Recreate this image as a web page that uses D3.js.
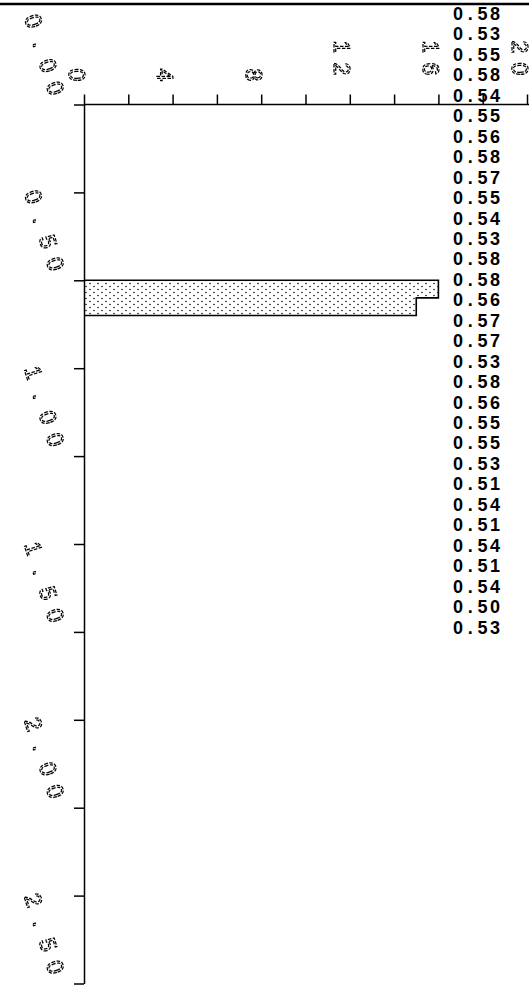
<!DOCTYPE html>
<html>
<head>
<meta charset="utf-8">
<script src="https://cdn.jsdelivr.net/npm/d3@7"></script>
<style>
  html, body { margin: 0; padding: 0; background: #fff; }
  svg { display: block; }
  .outline-label {
    font-family: "Liberation Sans", Arial, sans-serif;
    font-size: 23px;
    fill: #fff;
    stroke: #000;
    stroke-width: 1.25px;
    stroke-dasharray: 3.5 1.5;
    text-anchor: middle;
    text-rendering: geometricPrecision;
  }
  .labels { filter: grayscale(100%); }
  .value-list {
    font-family: "Liberation Sans", Arial, sans-serif;
    font-size: 18px;
    font-weight: bold;
    text-anchor: middle;
    fill: #000;
  }
</style>
</head>
<body>
<svg id="chart" width="529" height="997"></svg>
<script>
// histogram bins (y = value range, x = count)
var binStart = [0.50, 0.55];
var binEnd = [0.55, 0.60];
var binCount = [16, 15];

// value column printed at the right
var listedValues = ['0.58', '0.53', '0.55', '0.58', '0.54', '0.55', '0.56', '0.58', '0.57', '0.55',
    '0.54', '0.53', '0.58', '0.58', '0.56', '0.57', '0.57', '0.53', '0.58', '0.56',
    '0.55', '0.55', '0.53', '0.51', '0.54', '0.51', '0.54', '0.51', '0.54', '0.50', '0.53'];

var xTickValues = [0, 2, 4, 6, 8, 10, 12, 14, 16, 18, 20];
var xLabelValues = [0, 4, 8, 12, 16, 20];
var yTickValues = [0, 0.25, 0.5, 0.75, 1, 1.25, 1.5, 1.75, 2, 2.25, 2.5];
var yLabelValues = [0, 0.5, 1, 1.5, 2, 2.5];

var width = 529;
var height = 997;

var svg = d3.select('#chart');

var x = d3.scaleLinear().domain([0, 20]).range([84, 527]);
var y = d3.scaleLinear().domain([0, 2.5]).range([104.5, 983.5]);

// fixed-pitch positions for each character (plotter style)
function cells(str, step, first) {
    return str.split('').map(function(c, i) { return first + i * step; }).join(' ');
}

// dotted fill
var defs = svg.append('defs');
var pat = defs.append('pattern')
    .attr('id', 'stipple')
    .attr('patternUnits', 'userSpaceOnUse')
    .attr('width', 8)
    .attr('height', 6);
pat.append('rect').attr('width', 8).attr('height', 6).attr('fill', '#fff');
pat.append('circle').attr('cx', 2).attr('cy', 1.5).attr('r', 0.8).attr('fill', '#111');
pat.append('circle').attr('cx', 6).attr('cy', 4.5).attr('r', 0.8).attr('fill', '#111');

// top border
svg.append('line')
    .attr('x1', 0).attr('x2', width)
    .attr('y1', 4).attr('y2', 4)
    .attr('stroke', '#000')
    .attr('stroke-width', 2.5);

// bars
var bins = binStart.map(function(s, i) {
    return { start: s, end: binEnd[i], count: binCount[i] };
});

svg.append('g').selectAll('rect')
    .data(bins)
    .enter().append('rect')
    .attr('x', x(0))
    .attr('y', function(d) { return y(d.start); })
    .attr('width', function(d) { return x(d.count) - x(0); })
    .attr('height', function(d) { return y(d.end) - y(d.start); })
    .attr('fill', 'url(#stipple)');

// step outline around the bars
var outline = [[0, bins[0].start]];
bins.forEach(function(d) {
    outline.push([d.count, d.start]);
    outline.push([d.count, d.end]);
});
outline.push([0, bins[bins.length - 1].end]);

svg.append('path')
    .attr('d', d3.line()
        .x(function(d) { return x(d[0]); })
        .y(function(d) { return y(d[1]); })(outline))
    .attr('fill', 'none')
    .attr('stroke', '#000')
    .attr('stroke-width', 1.6);

// axes
var xAxis = svg.append('g')
    .attr('transform', 'translate(0,' + y(0) + ')')
    .call(d3.axisTop(x).tickValues(xTickValues).tickSize(10).tickSizeOuter(0).tickFormat(''));

var yAxis = svg.append('g')
    .attr('transform', 'translate(' + x(0) + ',0)')
    .call(d3.axisLeft(y).tickValues(yTickValues).tickSize(10).tickSizeOuter(0).tickFormat(''));

[xAxis, yAxis].forEach(function(g) {
    g.selectAll('line').attr('stroke', '#000').attr('stroke-width', 1.5);
    g.select('.domain').attr('stroke', '#000').attr('stroke-width', 1.5);
});
xAxis.select('.domain').attr('d', 'M' + x(0) + ',0H' + width);

// x labels, turned a quarter
svg.append('g').attr('class', 'labels').selectAll('text')
    .data(xLabelValues)
    .enter().append('text')
    .attr('class', 'outline-label')
    .attr('transform', function(d) { return 'translate(' + (x(d) - 15.5) + ',0) rotate(90)'; })
    .attr('x', function(d) {
        var s = String(d);
        return cells(s, 22, 75 - 28 * (s.length - 1));
    })
    .attr('y', 0)
    .text(function(d) { return d; });

// y labels, slanted
svg.append('g').attr('class', 'labels').selectAll('text')
    .data(yLabelValues)
    .enter().append('text')
    .attr('class', 'outline-label')
    .attr('transform', function(d) {
        return 'translate(26,' + (y(d) - 81) + ') rotate(72)';
    })
    .attr('x', function(d) { return cells(d3.format('.2f')(d), 23.5, 0); })
    .attr('y', 0)
    .text(function(d) { return d3.format('.2f')(d); });

// value column
svg.append('g').selectAll('text')
    .data(listedValues)
    .enter().append('text')
    .attr('class', 'value-list')
    .attr('x', function(d) { return cells(d, 12.3, 458); })
    .attr('y', function(d, i) { return 20 + i * 20.45; })
    .text(function(d) { return d; });
</script>
</body>
</html>
